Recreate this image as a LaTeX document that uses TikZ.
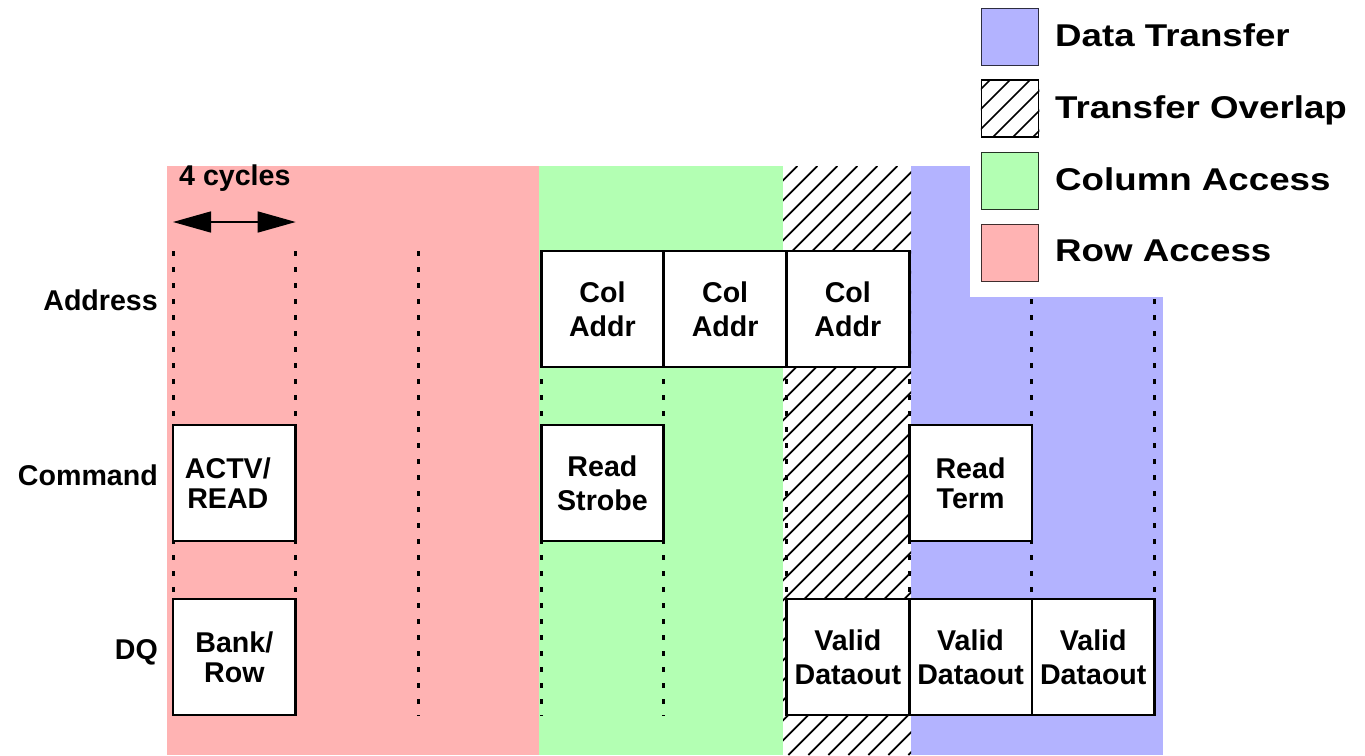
\documentclass[tikz,border=0pt]{standalone}
\usepackage{fontspec}
\setmainfont{Liberation Sans}
\usetikzlibrary{arrows.meta}

\definecolor{rowacc}{RGB}{255,179,179}
\definecolor{colacc}{RGB}{179,255,179}
\definecolor{datatr}{RGB}{179,179,255}

\newcommand\cellfnt{\fontsize{28.6}{34}\selectfont\bfseries}
\newcommand\legfnt{\fontsize{31.5}{36}\selectfont\bfseries}
\newcommand\legtext[1]{\scalebox{1.165}[1]{#1}}

\begin{document}
\begin{tikzpicture}[x=1pt,y=-1pt,
  cell/.style={draw=black, line width=2.8pt, fill=white, minimum width=122.7pt,
    minimum height=116pt, inner sep=0pt, align=center, font=\cellfnt},
  rowlabel/.style={anchor=base east, inner sep=0pt, font=\cellfnt},
  cycleline/.style={line width=3pt, dash pattern=on 5pt off 11pt},
  hatchline/.style={line width=1.7pt, black},
  swatch/.style={line width=1.5pt, minimum width=57pt, minimum height=57pt,
    inner sep=0pt},
  legtxt/.style={anchor=base west, inner sep=0pt, font=\legfnt}]

\useasboundingbox (0,0) rectangle (1365,755);

% phase backgrounds
\fill[rowacc] (167,166) rectangle (539,755);
\fill[colacc] (539,166) rectangle (783,755);
\fill[white]  (783,166) rectangle (911,755);
\fill[datatr] (911,166) rectangle (1163,755);

% transfer overlap hatching
\begin{scope}
  \clip (783,166) rectangle (911,755);
  \foreach \k in {47,...,84}
    \draw[hatchline] ({20*\k+3.3-755},755) -- ({20*\k+3.3-166},166);
\end{scope}

% cycle boundaries
\foreach \i in {0,...,8}
  \draw[cycleline] ({173+122.7*\i},251) -- ({173+122.7*\i},716);

% 4-cycle span
\coordinate (spanL) at (173,222);
\coordinate (spanR) at (295.7,222);
\draw[line width=1.5pt,
  {Triangle[length=38pt,width=21pt]}-{Triangle[length=38pt,width=21pt]}]
  (spanL) -- (spanR);
\node[anchor=base west, inner sep=0pt, font=\cellfnt] (span) at (179,185) {4 cycles};

% legend
\fill[white] (970,0) rectangle (1365,297);
\node[swatch, fill=datatr, draw=datatr!25!black] (swData) at (1010,37) {};
\node[swatch, fill=white, draw=black] (swOver) at (1010,108.7) {};
\begin{scope}
  \clip (swOver.south west) rectangle (swOver.north east);
  \foreach \k in {0,...,6}
    \draw[line width=1.5pt] ({1050+20*\k-140},140) -- ({1050+20*\k-77},77);
\end{scope}
\node[swatch, draw=black] (swOverFrame) at (swOver) {};
\node[swatch, fill=colacc, draw=colacc!20!black] (swCol) at (1010,181) {};
\node[swatch, fill=rowacc, draw=rowacc!25!black] (swRow) at (1010,253) {};
\node[legtxt] (lgData) at (1055,46.5) {\legtext{Data Transfer}};
\node[legtxt] (lgOver) at (1055,118)  {\legtext{Transfer Overlap}};
\node[legtxt] (lgCol)  at (1055,190)  {\legtext{Column Access}};
\node[legtxt] (lgRow)  at (1055,261.5){\legtext{Row Access}};

% row labels
\node[rowlabel] (lAddr) at (158,310.5) {Address};
\node[rowlabel] (lCmd)  at (158,485)   {Command};
\node[rowlabel] (lDQ)   at (158,659)   {DQ};

% address row
\node[cell] (ca1) at (602.45,309) {Col\\Addr};
\node[cell] (ca2) at (725.15,309) {Col\\Addr};
\node[cell] (ca3) at (847.85,309) {Col\\Addr};

% command row
\node[cell] (actv)  at (234.35,483) {ACTV/\hspace*{13pt}\\[-4pt]READ\hspace*{13pt}};
\node[cell] (rstr)  at (602.45,483) {Read\\Strobe};
\node[cell] (rterm) at (970.55,483) {Read\\[-4pt]Term};

% DQ row
\node[cell] (bank) at (234.35,657) {Bank/\\[-4pt]Row};
\node[cell] (vd1)  at (847.85,657) {Valid\\Dataout};
\node[cell] (vd2)  at (970.55,657) {Valid\\Dataout};
\node[cell] (vd3)  at (1093.25,657) {Valid\\Dataout};

\end{tikzpicture}
\end{document}
